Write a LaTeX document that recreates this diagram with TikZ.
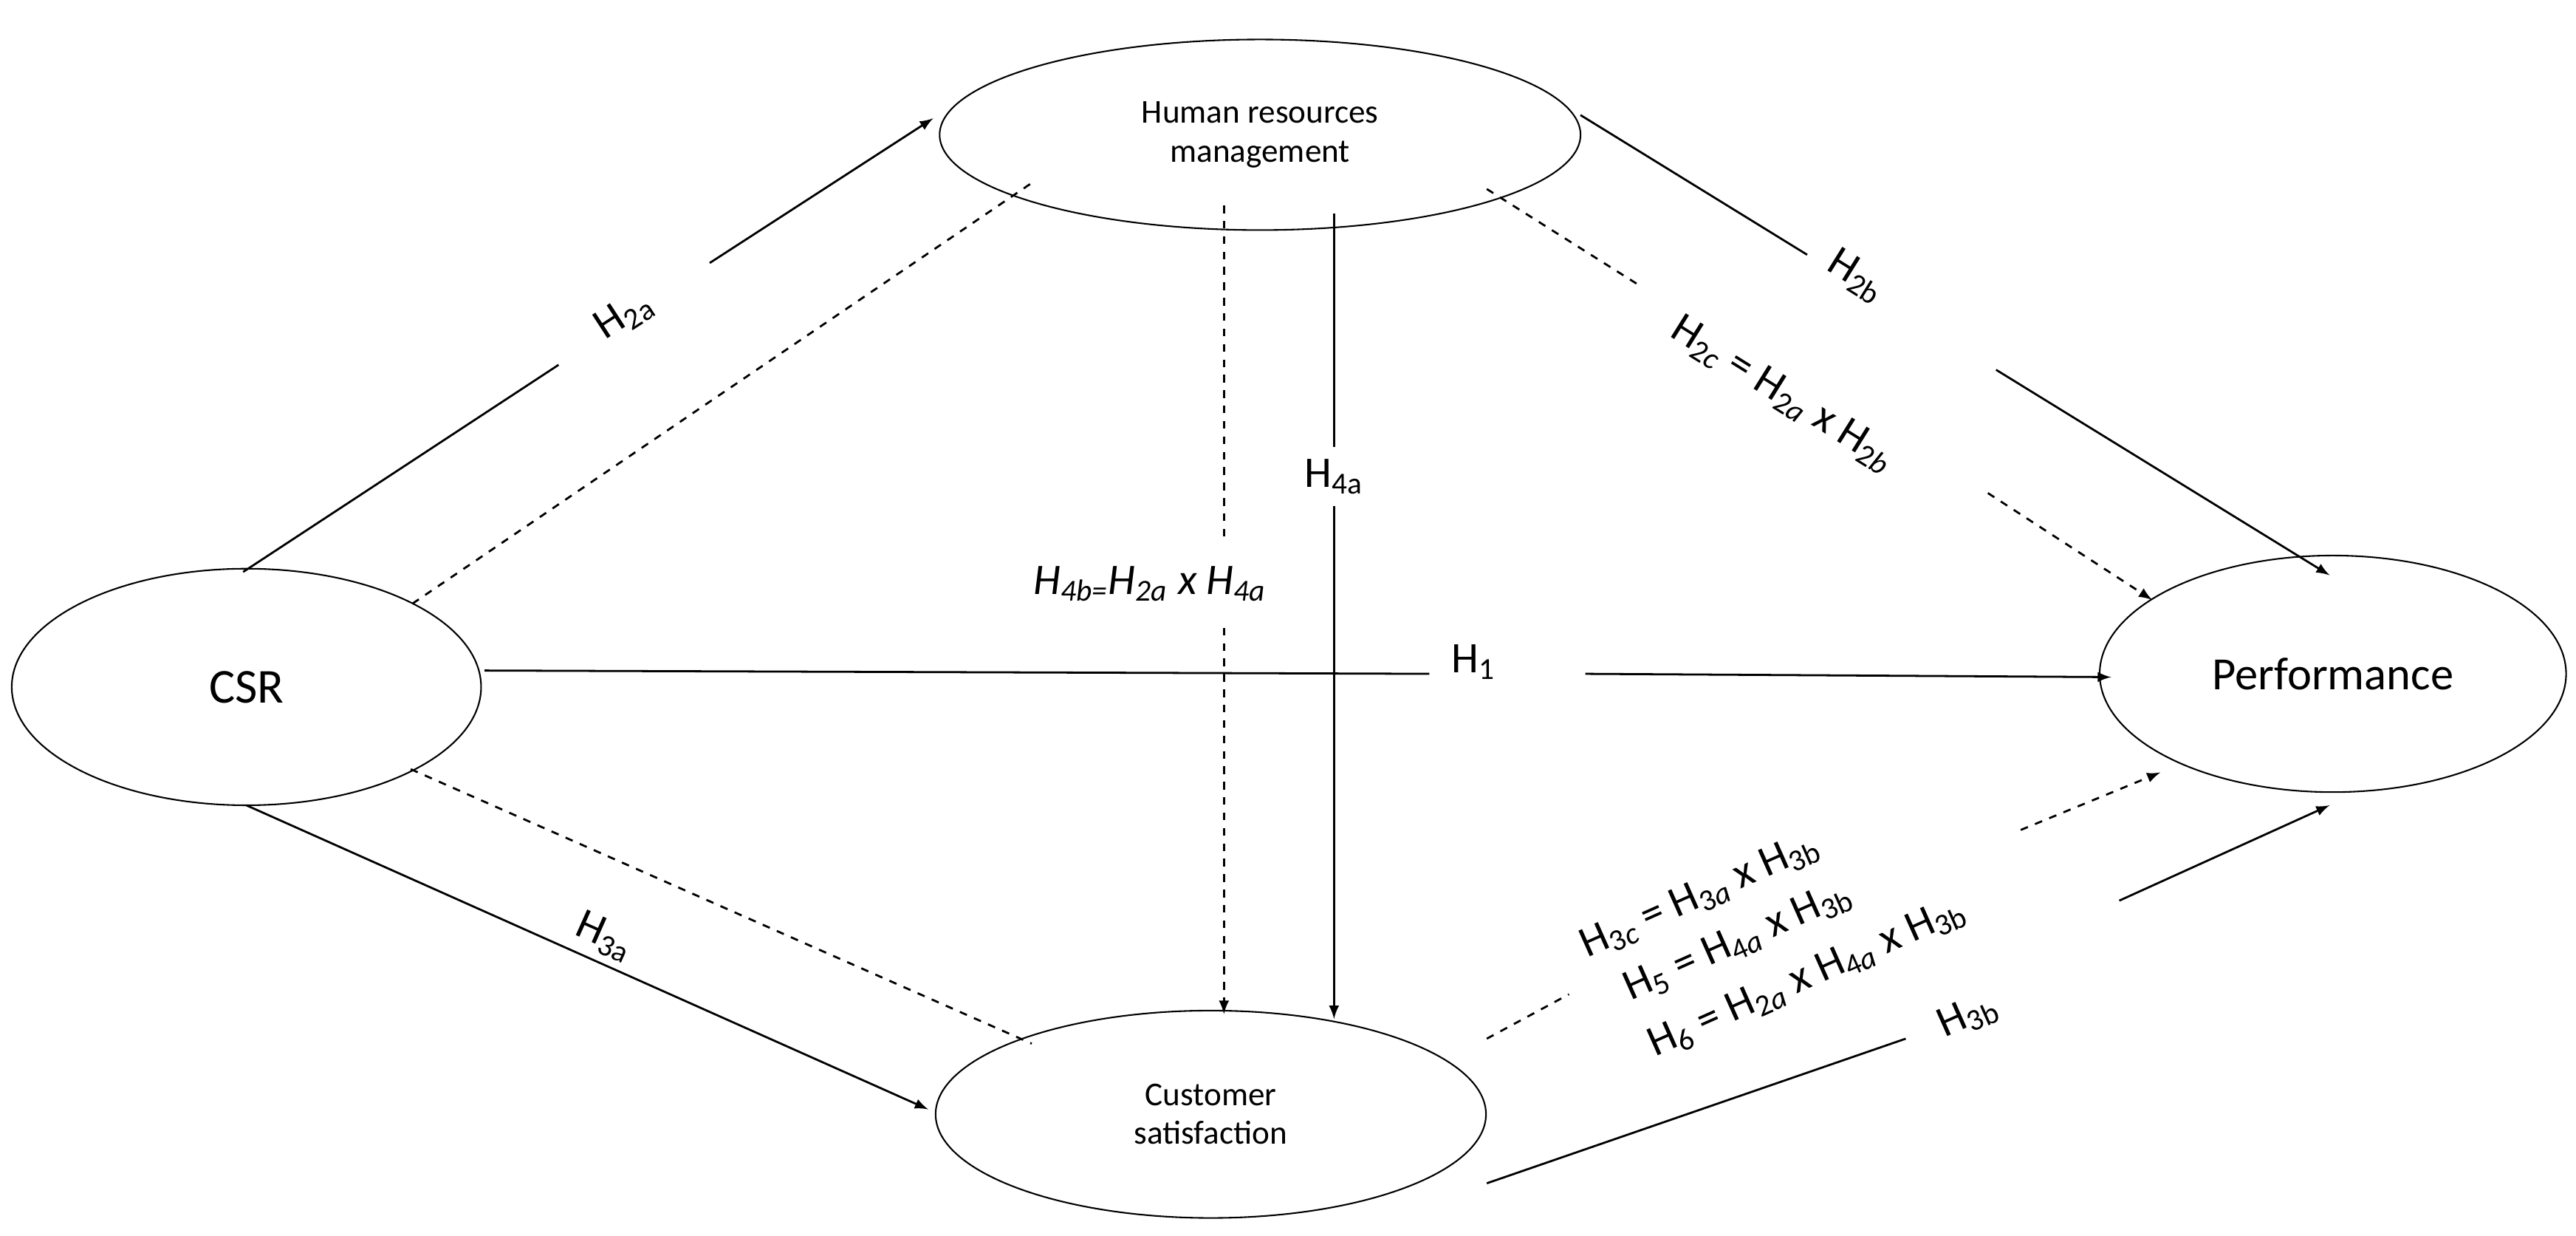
\documentclass[tikz,border=0pt]{standalone}
\usepackage{fontspec}
\setmainfont{Carlito}
\usetikzlibrary{shapes.geometric}

\begin{document}
\begin{tikzpicture}[x=0.0225cm,y=-0.0225cm,line width=0.8pt,
    construct/.style={ellipse,draw,line width=0.6pt,inner sep=0pt,align=center},
    hyp/.style={font=\fontsize{17}{19}\selectfont,inner sep=1pt},
    med/.style={dashed}]

        \useasboundingbox (0,0) rectangle (1568,752);

        % Draw constructs
        \node[construct,minimum width=6.43cm,minimum height=3.24cm,font=\fontsize{19}{21}\selectfont] (csr) at (150,418) {CSR};
        \node[construct,minimum width=8.78cm,minimum height=2.61cm,font=\fontsize{13}{15}\selectfont] (hrm) at (767,82) {Human resources\\management};
        \node[construct,minimum width=7.54cm,minimum height=2.84cm,font=\fontsize{13}{15}\selectfont] (cs) at (737,678) {Customer\\satisfaction};
        \node[construct,minimum width=6.39cm,minimum height=3.24cm,font=\fontsize{18}{20}\selectfont] (perf) at (1420,410) {Performance};

        % Gap coordinates
        \coordinate (a1) at (148,348); \coordinate (a2) at (340,222); \coordinate (a3) at (432,160); \coordinate (a4) at (568,72);
        \coordinate (b1) at (962,70); \coordinate (b2) at (1100,155); \coordinate (b3) at (1215,225); \coordinate (b4) at (1418,350);
        \coordinate (c1) at (905,115); \coordinate (c2) at (1000,175); \coordinate (c3) at (1210,300); \coordinate (c4) at (1310,365);
        \coordinate (d1) at (745,125); \coordinate (d2) at (745,330); \coordinate (d3) at (745,382); \coordinate (d4) at (745,617);
        \coordinate (e1) at (812,130); \coordinate (e2) at (812,272); \coordinate (e3) at (812,308); \coordinate (e4) at (812,620);
        \coordinate (f1) at (295,408); \coordinate (f2) at (870,410); \coordinate (f3) at (965,410); \coordinate (f4) at (1285,412);
        \coordinate (g1) at (905,632); \coordinate (g2) at (955,605); \coordinate (g3) at (1230,505); \coordinate (g4) at (1315,470);
        \coordinate (h1) at (905,720); \coordinate (h2) at (1160,632); \coordinate (h3) at (1290,548); \coordinate (h4) at (1418,490);
        \coordinate (k1) at (150,490); \coordinate (k2) at (565,675);
        \coordinate (m1) at (627,112); \coordinate (m2) at (250,368);
        \coordinate (n1) at (250,468); \coordinate (n2) at (628,635);

        % Draw paths
        \draw (a1) -- (a2); \draw[-latex] (a3) -- (a4);
        \draw (b1) -- (b2); \draw[-latex] (b3) -- (b4);
        \draw[med] (c1) -- (c2); \draw[med,-latex] (c3) -- (c4);
        \draw[med] (d1) -- (d2); \draw[med,-latex] (d3) -- (d4);
        \draw (e1) -- (e2); \draw[-latex] (e3) -- (e4);
        \draw (f1) -- (f2); \draw[-latex] (f3) -- (f4);
        \draw[med] (g1) -- (g2); \draw[med,-latex] (g3) -- (g4);
        \draw (h1) -- (h2); \draw[-latex] (h3) -- (h4);
        \draw[-latex] (k1) -- (k2);
        \draw[med] (m1) -- (m2);
        \draw[med] (n1) -- (n2);

        % Labels
        \node[hyp,rotate=33] (l2a) at (380,192) {H\textsubscript{2a}};
        \node[hyp,rotate=-32] (l2b) at (1130,168) {H\textsubscript{2b}};
        \node[hyp,rotate=-32] (l2c) at (1085,240) {H\textsubscript{2\textit{c}} = H\textsubscript{2\textit{a}} x H\textsubscript{2\textit{b}}};
        \node[hyp] (l4a) at (812,290) {H\textsubscript{4a}};
        \node[hyp] (l4b) at (700,355) {\textit{H\textsubscript{4b=}H\textsubscript{2a} x H\textsubscript{4a}}};
        \node[hyp] (l1) at (897,403) {H\textsubscript{1}};
        \node[hyp,rotate=-24] (l3a) at (368,570) {H\textsubscript{3a}};
        \node[hyp,rotate=24] (l3b) at (1198,618) {H\textsubscript{3b}};
        \node[hyp,rotate=24] (l3c) at (1035,545) {H\textsubscript{3\textit{c}} = H\textsubscript{3\textit{a}} x H\textsubscript{3b}};
        \node[hyp,rotate=24] (l5) at (1058,573) {H\textsubscript{5} = H\textsubscript{4\textit{a}} x H\textsubscript{3b}};
        \node[hyp,rotate=24] (l6) at (1100,595) {H\textsubscript{6} = H\textsubscript{2\textit{a}} x H\textsubscript{4\textit{a}} x H\textsubscript{3b}};

    \end{tikzpicture}
\end{document}
